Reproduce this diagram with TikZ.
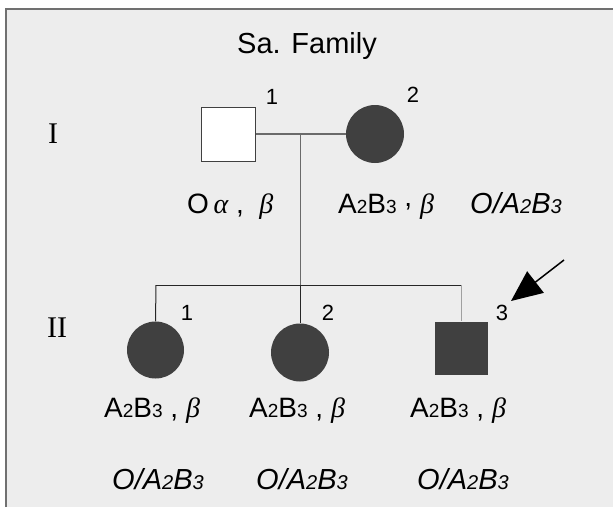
\documentclass[tikz,border=0pt]{standalone}
\usepackage{fontspec}
\setmainfont{Liberation Sans}
\newfontfamily\seriffont{Liberation Serif}
\usetikzlibrary{arrows.meta}
\definecolor{bgcol}{HTML}{EDEDED}
\definecolor{affcol}{HTML}{404040}
\definecolor{framecol}{HTML}{707070}
\definecolor{linecol}{HTML}{6A6A6A}
\definecolor{lightline}{HTML}{A0A0A0}
\newcommand\smdig[1]{{\fontsize{19}{19}\selectfont #1}}
\newcommand\ismdig[1]{{\fontsize{20}{20}\selectfont #1}}
\newcommand\grk[1]{{\seriffont\itshape #1}}
\begin{document}
\begin{tikzpicture}[x=1pt,y=-1pt,
  lbl/.style={inner sep=0pt, anchor=base west, font=\fontsize{28}{28}\selectfont},
  ilbl/.style={inner sep=0pt, anchor=base west, font=\fontsize{29}{29}\selectfont\itshape},
  num/.style={inner sep=0pt, anchor=center, font=\fontsize{22}{22}\selectfont},
  gen/.style={inner sep=0pt, anchor=base, font=\fontsize{30}{30}\selectfont\seriffont},
  affected/.style={circle, fill=affcol, draw=none, inner sep=0pt, minimum size=58pt},
  affmale/.style={rectangle, fill=affcol, draw=none, inner sep=0pt, minimum size=53pt},
  normmale/.style={rectangle, fill=white, draw=affcol, line width=1pt, inner sep=0pt, minimum size=54pt},
  pline/.style={draw=linecol, line width=1.4pt},
  sline/.style={draw=black!85, line width=1pt}]
\useasboundingbox (0,0) rectangle (613,507);
\fill[bgcol] (6,9) rectangle (613,507);
\draw[framecol, line width=2pt] (6,507) -- (6,9) -- (613,9);

\node[inner sep=0pt, anchor=base, font=\fontsize{29}{29}\selectfont] (title) at (307,53) {Sa. Family};

\node[gen] (genI) at (53,143) {I};
\node[gen] (genII) at (57,337) {II};

% generation I
\node[normmale] (p1) at (228,134) {};
\node[affected] (p2) at (375,134) {};
\node[num] (p1n) at (272,97) {1};
\node[num] (p2n) at (413,95) {2};
\coordinate (mate) at (300,134);
\coordinate (sib) at (300,285);
\coordinate (sibL) at (156,285);
\coordinate (sibR) at (461.5,285);
\draw[pline] (p1.east) -- (p2.west);
\draw[sline, draw=linecol] (mate) -- (sib);

\node[lbl] (p1t) at (187,213) {O\,\grk{α}\ ,\ \ \grk{β}};
\node[lbl] (p2t) at (338,213) {A\smdig{2}B\smdig{3}\ \raisebox{7pt}{,}\ \grk{β}};
\node[ilbl] (p2g) at (470,213) {O/A\ismdig{2}B\ismdig{3}};

% generation II
\node[affected, minimum size=57pt] (c1) at (155.5,350) {};
\node[affected] (c2) at (300,352.5) {};
\node[affmale] (c3) at (461.5,348) {};
\node[num] (c1n) at (187,313) {1};
\node[num] (c2n) at (328,313) {2};
\node[num] (c3n) at (502,313) {3};

\draw[sline] (sibL) -- (sibR);
\draw[sline] (sibL) -- (c1.north);
\draw[sline] (sib) -- (c2.north);
\draw[sline, draw=lightline] (sibR) -- (c3.north);

\node[lbl] (c1t) at (104,417) {A\smdig{2}B\smdig{3}\ ,\ \grk{β}};
\node[lbl] (c2t) at (249,417) {A\smdig{2}B\smdig{3}\ ,\ \grk{β}};
\node[lbl] (c3t) at (410,417) {A\smdig{2}B\smdig{3}\ ,\ \grk{β}};

\node[ilbl] (c1g) at (112,489) {O/A\ismdig{2}B\ismdig{3}};
\node[ilbl] (c2g) at (256,489) {O/A\ismdig{2}B\ismdig{3}};
\node[ilbl] (c3g) at (417,489) {O/A\ismdig{2}B\ismdig{3}};

% proband arrow
\coordinate (arrowstart) at (564,260);
\coordinate (arrowtip) at (511,301);
\draw[line width=1.5pt, -{Triangle[length=31pt, width=27pt]}] (arrowstart) -- (arrowtip);
\end{tikzpicture}
\end{document}
